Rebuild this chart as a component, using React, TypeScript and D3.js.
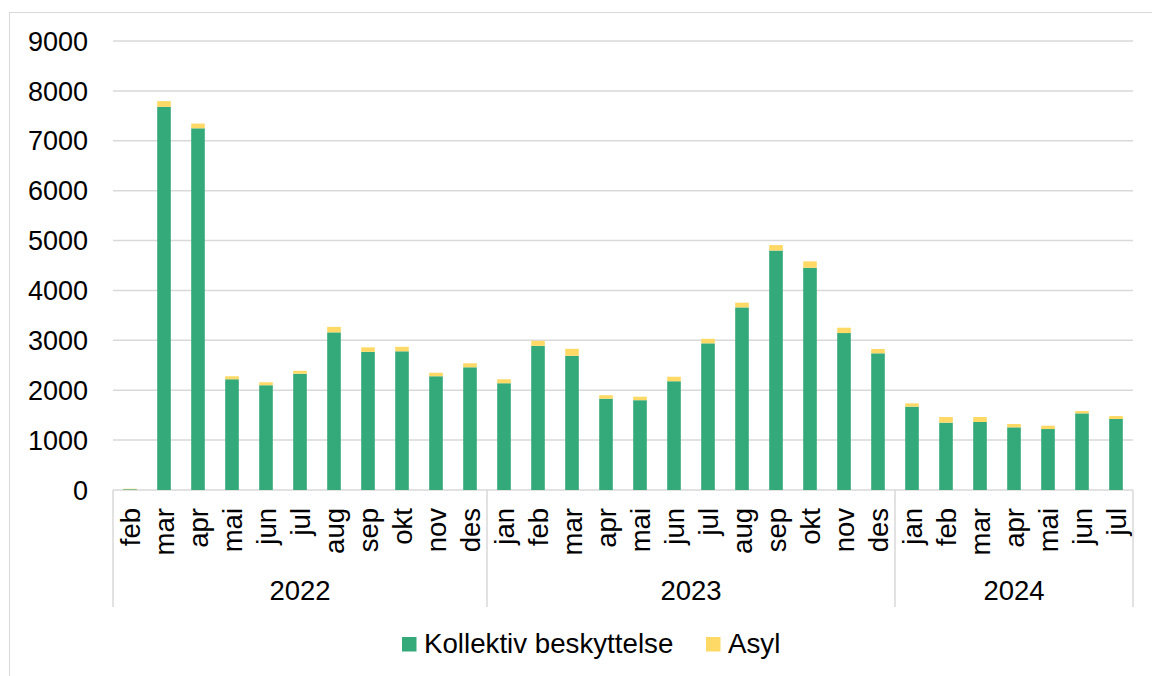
import React, { useRef, useEffect } from 'react';
import * as d3 from 'd3';

// data
const years = ['2022', '2023', '2024'];
const months = [
  ['feb', 'mar', 'apr', 'mai', 'jun', 'jul', 'aug', 'sep', 'okt', 'nov', 'des'],
  ['jan', 'feb', 'mar', 'apr', 'mai', 'jun', 'jul', 'aug', 'sep', 'okt', 'nov', 'des'],
  ['jan', 'feb', 'mar', 'apr', 'mai', 'jun', 'jul'],
];
const kollektiv = [
  15, 7680, 7250, 2220, 2100, 2330, 3160, 2770, 2780, 2280, 2460,
  2140, 2890, 2690, 1830, 1800, 2180, 2940, 3660, 4800, 4455, 3146, 2740,
  1670, 1350, 1363, 1256, 1222, 1536, 1423,
];
const asyl = [
  10, 115, 95, 60, 60, 60, 110, 90, 90, 70, 80,
  80, 100, 140, 70, 70, 90, 90, 95, 110, 128, 107, 86,
  67, 113, 100, 67, 67, 47, 60,
];
const yTicks = [0, 1000, 2000, 3000, 4000, 5000, 6000, 7000, 8000, 9000];
const seriesNames = ['Kollektiv beskyttelse', 'Asyl'];
const colors = ['#34a97a', '#ffd966'];

const App = () => {
  const ref = useRef(null);

  useEffect(() => {
    const svg = d3.select(ref.current);
    svg.selectAll('*').remove();

    const left = 113, right = 1133, top = 41, bottom = 490;
    const font = 'Liberation Sans, Arial, sans-serif';
    const grey = '#d9d9d9';

    // outer frame
    svg.append('rect')
      .attr('x', 9.5).attr('y', 12.5).attr('width', 1160).attr('height', 700)
      .attr('fill', 'none').attr('stroke', grey).attr('stroke-width', 1);

    const rows = [];
    months.forEach((ms, yi) => ms.forEach((m, mi) => {
      const i = rows.length;
      rows.push({ key: `${years[yi]}-${m}`, month: m, year: years[yi], k: kollektiv[i], a: asyl[i] });
    }));

    const x = d3.scaleBand().domain(rows.map(d => d.key)).range([left, right]).paddingInner(0.6).paddingOuter(0.3);
    const y = d3.scaleLinear().domain([0, 9000]).range([bottom, top]);

    // gridlines
    svg.append('g').selectAll('line')
      .data(yTicks)
      .join('line')
      .attr('x1', left).attr('x2', right)
      .attr('y1', d => y(d)).attr('y2', d => y(d))
      .attr('stroke', grey).attr('stroke-width', 1.5);

    svg.append('g').selectAll('text')
      .data(yTicks)
      .join('text')
      .attr('x', 88).attr('y', d => y(d))
      .attr('dy', '0.36em')
      .attr('text-anchor', 'end')
      .style('font-family', font).style('font-size', '27px').attr('fill', '#000')
      .text(d => d);

    // stacked bars
    const stack = d3.stack().keys(['k', 'a'])(rows);
    svg.append('g').selectAll('g')
      .data(stack)
      .join('g')
      .attr('fill', (d, i) => colors[i])
      .selectAll('rect')
      .data(d => d)
      .join('rect')
      .attr('x', d => x(d.data.key))
      .attr('width', x.bandwidth())
      .attr('y', d => y(d[1]))
      .attr('height', d => y(d[0]) - y(d[1]));

    // month labels
    const step = x.step();
    svg.append('g').selectAll('text')
      .data(rows)
      .join('text')
      .attr('transform', d => `translate(${x(d.key) + x.bandwidth() / 2},508) rotate(-90)`)
      .attr('dy', '0.36em')
      .attr('text-anchor', 'end')
      .style('font-family', font).style('font-size', '27.5px').attr('fill', '#000')
      .text(d => d.month);

    // year groups
    let start = 0;
    const groups = years.map((yr, yi) => {
      const g = { year: yr, x0: left + start * step, x1: left + (start + months[yi].length) * step };
      start += months[yi].length;
      return g;
    });
    const seps = [left, ...groups.map(g => g.x1)];
    svg.append('g').selectAll('line')
      .data(seps)
      .join('line')
      .attr('x1', d => d).attr('x2', d => d)
      .attr('y1', bottom).attr('y2', 607)
      .attr('stroke', grey).attr('stroke-width', 1.5);

    svg.append('g').selectAll('text')
      .data(groups)
      .join('text')
      .attr('x', d => (d.x0 + d.x1) / 2).attr('y', 600)
      .attr('text-anchor', 'middle')
      .style('font-family', font).style('font-size', '27.5px').attr('fill', '#000')
      .text(d => d.year);

    // legend
    const legendX = [402, 706];
    const legend = svg.append('g').selectAll('g')
      .data(seriesNames)
      .join('g')
      .attr('transform', (d, i) => `translate(${legendX[i]},637)`);
    legend.append('rect')
      .attr('width', 14.5).attr('height', 14.5)
      .attr('fill', (d, i) => colors[i]);
    legend.append('text')
      .attr('x', 22).attr('y', 16)
      .style('font-family', font).style('font-size', '27.7px').attr('fill', '#000')
      .text(d => d);
  }, []);

  return <svg ref={ref} width={1152} height={676} style={{ position: 'absolute', left: 0, top: 0 }} />;
};

export default App;
